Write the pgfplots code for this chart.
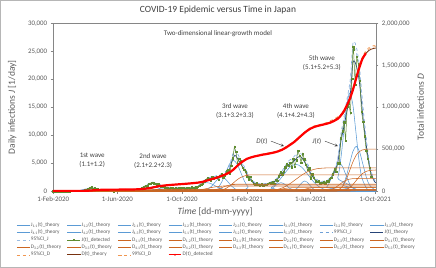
\documentclass[border=0pt]{standalone}
\usepackage{fontspec}
\setmainfont{Carlito}
\usepackage{pgfplots}
\pgfplotsset{compat=1.18}

\definecolor{jblue}{RGB}{91,155,213}
\definecolor{jci}{RGB}{110,160,215}
\definecolor{jnavy}{RGB}{38,68,120}
\definecolor{jgreen}{RGB}{96,140,50}
\definecolor{dorange}{RGB}{204,102,34}
\definecolor{dci}{RGB}{240,150,80}
\definecolor{dbrown}{RGB}{120,50,15}
\definecolor{axgray}{RGB}{134,134,134}
\definecolor{txtgray}{RGB}{89,89,89}

\pgfplotsset{
  jc/.style={jblue, line width=0.55pt, smooth, mark=none},
  dc/.style={dorange, line width=0.55pt, smooth, mark=none},
  jdet/.style={jgreen, line width=0.5pt, mark=square*, mark size=0.7pt, mark options={line width=0.2pt}},
  ddet/.style={red, line width=2.2pt, mark=*, mark size=0.5pt, mark options={line width=0.2pt}},
  base/.style={
    width=323pt, height=168pt, scale only axis,
    xmin=0, xmax=609,
    scaled y ticks=false,
    tick align=outside, major tick length=2.5pt,
    tick style={axgray, line width=0.4pt},
    tick label style={font=\fontsize{6.9}{8}\selectfont, text=txtgray},
    axis line style={axgray, line width=0.5pt},
  },
}

\begin{document}
\begin{tikzpicture}
% ---------- daily infections J (left axis)
\begin{axis}[base,
  ymin=0, ymax=30000,
  ytick={0,5000,10000,15000,20000,25000,30000},
  yticklabels={0,{5,000},{10,000},{15,000},{20,000},{25,000},{30,000}},
  xtick={0,121,243,366,486,608},
  xticklabels={1-Feb-2020,1-Jun-2020,1-Oct-2020,1-Feb-2021,1-Jun-2021,1-Oct-2021},
  xtick pos=left, ytick pos=left,
]
% wave components
\addplot[jc] coordinates {(0,0) (36,4.6) (46,57) (51,137) (56,255) (61,370) (66,420) (71,370) (76,255) (81,137) (86,57) (96,4.6) (609,0)};
\addplot[jc] coordinates {(0,0) (36,2.4) (50,30) (57,72) (64,134) (71,194) (78,220) (85,194) (92,134) (99,72) (106,30) (120,2.4) (609,0)};
\addplot[jc] coordinates {(0,0) (146,7.7) (156,95) (161,228) (166,425) (171,617) (176,700) (181,617) (186,425) (191,228) (196,95) (206,7.7) (609,0)};
\addplot[jc] coordinates {(0,0) (160,8.8) (170,108) (175,260) (180,486) (185,706) (190,800) (195,706) (200,486) (205,260) (210,108) (220,8.8) (609,0)};
\addplot[jc] coordinates {(0,0) (163,4.4) (177,54) (184,130) (191,243) (198,353) (205,400) (212,353) (219,243) (226,130) (233,54) (247,4.4) (609,0)};
\addplot[jc] coordinates {(0,0) (242,16) (258,203) (266,488) (274,911) (282,1323) (290,1500) (298,1323) (306,911) (314,488) (322,203) (338,16) (609,0)};
\addplot[jc] coordinates {(0,0) (279,28) (292,338) (298.5,813) (305,1518) (311.5,2205) (318,2500) (324.5,2205) (331,1518) (337.5,813) (344,338) (357,28) (609,0)};
\addplot[jc] coordinates {(0,0) (298,61) (312,743) (319,1788) (326,3339) (333,4851) (340,5500) (347,4851) (354,3339) (361,1788) (368,743) (382,61) (609,0)};
\addplot[jc] coordinates {(0,0) (397,16) (408,203) (413.5,488) (419,911) (424.5,1323) (430,1500) (435.5,1323) (441,911) (446.5,488) (452,203) (463,16) (609,0)};
\addplot[jc] coordinates {(0,0) (389,53) (412,648) (423.5,1560) (435,2914) (446.5,4234) (458,4800) (469.5,4234) (481,2914) (492.5,1560) (504,648) (527,53) (609,0)};
\addplot[jc] coordinates {(0,0) (448,20) (457,243) (461.5,585) (466,1093) (470.5,1588) (475,1800) (479.5,1588) (484,1093) (488.5,585) (493,243) (502,20) (609,0)};
\addplot[jc] coordinates {(0,0) (504,55) (516,675) (522,1625) (528,3035) (534,4410) (540,5000) (546,4410) (552,3035) (558,1625) (564,675) (576,55) (609,0)};
\addplot[jc] coordinates {(0,0) (525.8,193) (537.2,2363) (542.9,5688) (548.6,10623) (554.3,15435) (560,17500) (565.7,15435) (571.4,10623) (577.1,5688) (582.8,2363) (594.2,193) (609,0)};
\addplot[jc] coordinates {(0,0) (534.5,88) (547,1080) (553.25,2600) (559.5,4856) (565.75,7056) (572,8000) (578.25,7056) (584.5,4856) (590.75,2600) (597,1080) (609,88)};
% 99% CI
\addplot[jci, dashed, line width=0.55pt, smooth] coordinates {(0,0) (20,12) (35,35) (50,58) (58,173) (63,345) (68,575) (73,644) (78,552) (85,380) (92,207) (100,92) (110,40) (120,40) (135,58) (145,104) (152,196) (160,345) (168,644) (175,1035) (182,1438) (188,1610) (193,1438) (200,1208) (207,920) (215,667) (225,598) (240,598) (255,621) (265,667) (272,863) (280,1380) (288,2128) (296,2473) (305,2645) (315,2990) (325,3450) (332,4255) (338,6325) (343,7360) (348,6670) (355,5405) (362,4140) (370,2645) (378,1725) (388,1323) (400,1323) (412,1668) (420,2070) (428,3105) (436,4140) (444,5405) (452,5865) (460,6785) (466,7130) (472,6440) (480,4945) (488,3220) (496,2185) (505,1783) (515,1840) (522,2300) (530,3680) (537,5750) (543,10120) (549,13340) (555,16675) (561,20125) (566,26450) (572,25875) (578,22425) (585,14950) (592,8625) (599,4025) (606,2070) (609,1725)};
% J theory
\addplot[jnavy, line width=0.7pt, smooth] coordinates {(0,0) (20,10) (35,30) (50,50) (58,150) (63,300) (68,500) (73,560) (78,480) (85,330) (92,180) (100,80) (110,35) (120,35) (135,50) (145,90) (152,170) (160,300) (168,560) (175,900) (182,1250) (188,1400) (193,1250) (200,1050) (207,800) (215,580) (225,520) (240,520) (255,540) (265,580) (272,750) (280,1200) (288,1850) (296,2150) (305,2300) (315,2600) (325,3000) (332,3700) (338,5500) (343,6400) (348,5800) (355,4700) (362,3600) (370,2300) (378,1500) (388,1150) (400,1150) (412,1450) (420,1800) (428,2700) (436,3600) (444,4700) (452,5100) (460,5900) (466,6200) (472,5600) (480,4300) (488,2800) (496,1900) (505,1550) (515,1600) (522,2000) (530,3200) (537,5000) (543,8800) (549,11600) (555,14500) (561,17500) (566,23000) (572,22500) (578,19500) (585,13000) (592,7500) (599,3500) (606,1800) (609,1500)};
% 95% CI
\addplot[jci!70, dashed, line width=0.55pt, smooth] coordinates {(0,0) (20,11) (35,33) (50,55) (58,165) (63,330) (68,550) (73,616) (78,528) (85,363) (92,198) (100,88) (110,39) (120,39) (135,55) (145,99) (152,187) (160,330) (168,616) (175,990) (182,1375) (188,1540) (193,1375) (200,1155) (207,880) (215,638) (225,572) (240,572) (255,594) (265,638) (272,825) (280,1320) (288,2035) (296,2365) (305,2530) (315,2860) (325,3300) (332,4070) (338,6050) (343,7040) (348,6380) (355,5170) (362,3960) (370,2530) (378,1650) (388,1265) (400,1265) (412,1595) (420,1980) (428,2970) (436,3960) (444,5170) (452,5610) (460,6490) (466,6820) (472,6160) (480,4730) (488,3080) (496,2090) (505,1705) (515,1760) (522,2200) (530,3520) (537,5500) (543,9680) (549,12760) (555,15950) (561,19250) (566,25300) (572,24750) (578,21450) (585,14300) (592,8250) (599,3850) (606,1980) (609,1650)};
% J detected
\addplot[jdet] coordinates {
(0,2) (3,1) (6,3) (9,5) (12,8) (15,12) (18,10) (21,15) (24,20) (27,12)
(30,15) (33,30) (36,40) (39,55) (42,45) (45,35) (48,40) (51,50) (54,60) (57,110)
(60,225) (63,310) (66,360) (69,640) (72,720) (75,380) (78,570) (81,430) (84,380) (87,280)
(90,240) (93,200) (96,120) (99,80) (102,90) (105,55) (108,30) (111,25) (114,20) (117,30)
(120,40) (123,50) (126,35) (129,40) (132,45) (135,55) (138,70) (141,60) (144,90) (147,110)
(150,130) (153,190) (156,250) (159,280) (162,300) (165,420) (168,600) (171,780) (174,980) (177,900)
(180,1300) (183,1350) (186,1560) (189,1450) (192,1300) (195,1050) (198,1350) (201,1000) (204,900) (207,800)
(210,700) (213,600) (216,550) (219,470) (222,580) (225,520) (228,470) (231,560) (234,380) (237,500)
(240,550) (243,580) (246,620) (249,480) (252,550) (255,610) (258,440) (261,700) (264,620) (267,500)
(270,730) (273,790) (276,1000) (279,1100) (282,1450) (285,1650) (288,2000) (291,2300) (294,2250) (297,1900)
(300,2500) (303,2200) (306,2400) (309,2500) (312,2000) (315,2750) (318,3000) (321,2500) (324,2850) (327,3600)
(330,3800) (333,3100) (336,4500) (339,5900) (342,7900) (345,7000) (348,4900) (351,5800) (354,5400) (357,4200)
(360,3850) (363,3500) (366,2600) (369,2100) (372,2600) (375,1900) (378,1300) (381,1200) (384,1400) (387,1100)
(390,1050) (393,1250) (396,1000) (399,1150) (402,1100) (405,1300) (408,1500) (411,1450) (414,1700) (417,1350)
(420,2000) (423,1900) (426,2700) (429,3400) (432,3000) (435,3450) (438,4300) (441,4800) (444,4500) (447,5100)
(450,4300) (453,5800) (456,4400) (459,5500) (462,7200) (465,6300) (468,5100) (471,6700) (474,5700) (477,4700)
(480,3800) (483,4100) (486,2300) (489,3000) (492,2400) (495,1800) (498,1700) (501,1800) (504,1450) (507,1500)
(510,1600) (513,1400) (516,1800) (519,1750) (522,2200) (525,2400) (528,3000) (531,3900) (534,3500) (537,5000)
(540,5000) (543,9500) (546,10700) (549,12300) (552,9000) (555,15200) (558,15700) (561,14000) (564,20100) (566,25800)
(567,25400) (570,19000) (573,24000) (576,22700) (579,19800) (582,14200) (585,12400) (588,9800) (591,7200) (594,5800)
(597,4200) (600,2600)};
\end{axis}

% ---------- total infections D (right axis)
\begin{axis}[base,
  ymin=0, ymax=2000000,
  axis x line=none, axis y line*=right,
  ytick={0,500000,1000000,1500000,2000000},
  yticklabels={0,{500,000},{1,000,000},{1,500,000},{2,000,000}},
  legend columns=8,
  legend cell align=left,
  legend image code/.code={\draw[mark repeat=2,mark phase=2,#1] plot coordinates {(0pt,0pt) (6.5pt,0pt) (13pt,0pt)};},
  legend style={at={(0.505,-0.18)}, anchor=north, draw=none, fill=none,
    font=\fontsize{5.3}{6}\selectfont, text=txtgray,
    /tikz/every even column/.append style={column sep=5pt},
    row sep=0.5pt, inner sep=0pt, nodes={inner sep=0.8pt}},
]
\addlegendimage{jc}\addlegendentry{J\textsubscript{1.1}(t)\_theory}
\addlegendimage{jc}\addlegendentry{J\textsubscript{1.2}(t)\_theory}
\addlegendimage{jc}\addlegendentry{J\textsubscript{2.1}(t)\_theory}
\addlegendimage{jc}\addlegendentry{J\textsubscript{2.2}(t)\_theory}
\addlegendimage{jc}\addlegendentry{J\textsubscript{2.3}(t)\_theory}
\addlegendimage{jc}\addlegendentry{J\textsubscript{3.1}(t)\_theory}
\addlegendimage{jc}\addlegendentry{J\textsubscript{3.2}(t)\_theory}
\addlegendimage{jc}\addlegendentry{J\textsubscript{3.3}(t)\_theory}
\addlegendimage{jc}\addlegendentry{J\textsubscript{4.1}(t)\_theory}
\addlegendimage{jc}\addlegendentry{J\textsubscript{4.2}(t)\_theory}
\addlegendimage{jc}\addlegendentry{J\textsubscript{4.3}(t)\_theory}
\addlegendimage{jc}\addlegendentry{J\textsubscript{5.1}(t)\_theory}
\addlegendimage{jc}\addlegendentry{J\textsubscript{5.2}(t)\_theory}
\addlegendimage{jc}\addlegendentry{J\textsubscript{5.3}(t)\_theory}
\addlegendimage{jci, dashed, line width=0.55pt}\addlegendentry{99\%CI\_J}
\addlegendimage{jnavy, line width=0.7pt}\addlegendentry{J(t)\_theory}
\addlegendimage{jci!70, dashed, line width=0.55pt}\addlegendentry{95\%CI\_J}
\addlegendimage{jdet}\addlegendentry{J(t)\_detected}
% wave components, cumulative
\addplot[dc] coordinates {(0,0) (36,10) (46,242) (51,704) (56,1670) (61,3245) (66,5250) (71,7256) (76,8831) (81,9797) (86,10259) (96,10490) (609,10500)};
\addlegendentry{D\textsubscript{1.1}(t)\_theory}
\addplot[dc] coordinates {(0,0) (36,8) (50,177) (57,516) (64,1224) (71,2379) (78,3850) (85,5321) (92,6476) (99,7184) (106,7523) (120,7692) (609,7700)};
\addlegendentry{D\textsubscript{1.2}(t)\_theory}
\addplot[dc] coordinates {(0,0) (146,18) (156,403) (161,1173) (166,2783) (171,5408) (176,8750) (181,12093) (186,14718) (191,16328) (196,17098) (206,17483) (609,17500)};
\addlegendentry{D\textsubscript{2.1}(t)\_theory}
\addplot[dc] coordinates {(0,0) (160,20) (170,460) (175,1340) (180,3180) (185,6180) (190,10000) (195,13820) (200,16820) (205,18660) (210,19540) (220,19980) (609,20000)};
\addlegendentry{D\textsubscript{2.2}(t)\_theory}
\addplot[dc] coordinates {(0,0) (163,14) (177,322) (184,938) (191,2226) (198,4326) (205,7000) (212,9674) (219,11774) (226,13062) (233,13678) (247,13986) (609,14000)};
\addlegendentry{D\textsubscript{2.3}(t)\_theory}
\addplot[dc] coordinates {(0,0) (242,60) (258,1380) (266,4020) (274,9540) (282,18540) (290,30000) (298,41460) (306,50460) (314,55980) (322,58620) (338,59940) (609,60000)};
\addlegendentry{D\textsubscript{3.1}(t)\_theory}
\addplot[dc] coordinates {(0,0) (279,81) (292,1863) (298.5,5427) (305,12879) (311.5,25029) (318,40500) (324.5,55971) (331,68121) (337.5,75573) (344,79137) (357,80919) (609,81000)};
\addlegendentry{D\textsubscript{3.2}(t)\_theory}
\addplot[dc] coordinates {(0,0) (298,193) (312,4439) (319,12931) (326,30687) (333,59637) (340,96500) (347,133363) (354,162313) (361,180069) (368,188561) (382,192807) (609,193000)};
\addlegendentry{D\textsubscript{3.3}(t)\_theory}
\addplot[dc] coordinates {(0,0) (397,41) (408,943) (413.5,2747) (419,6519) (424.5,12669) (430,20500) (435.5,28331) (441,34481) (446.5,38253) (452,40057) (463,40959) (609,41000)};
\addlegendentry{D\textsubscript{4.1}(t)\_theory}
\addplot[dc] coordinates {(0,0) (389,277) (412,6371) (423.5,18559) (435,44043) (446.5,85593) (458,138500) (469.5,191407) (481,232957) (492.5,258441) (504,270629) (527,276723) (609,277000)};
\addlegendentry{D\textsubscript{4.2}(t)\_theory}
\addplot[dc] coordinates {(0,0) (448,41) (457,943) (461.5,2747) (466,6519) (470.5,12669) (475,20500) (479.5,28331) (484,34481) (488.5,38253) (493,40057) (502,40959) (609,41000)};
\addlegendentry{D\textsubscript{4.3}(t)\_theory}
\addplot[dc] coordinates {(0,0) (504,150) (516,3450) (522,10050) (528,23850) (534,46350) (540,75000) (546,103650) (552,126150) (558,139950) (564,146550) (576,149850) (609,150000)};
\addlegendentry{D\textsubscript{5.1}(t)\_theory}
\addplot[dc] coordinates {(0,0) (525.8,500) (537.2,11500) (542.9,33500) (548.6,79500) (554.3,154500) (560,250000) (565.7,345500) (571.4,420500) (577.1,466500) (582.8,488500) (594.2,499500) (609,500000)};
\addlegendentry{D\textsubscript{5.2}(t)\_theory}
\addplot[dc] coordinates {(0,0) (534.5,251) (547,5773) (553.25,16817) (559.5,39909) (565.75,77559) (572,125500) (578.25,173441) (584.5,211091) (590.75,234183) (597,245227) (609,250749)};
\addlegendentry{D\textsubscript{5.3}(t)\_theory}
% 95% CI D
\addplot[dci, dashed, line width=0.55pt, smooth] coordinates {(0,0) (60,2424) (90,14645) (121,17170) (151,19089) (182,35350) (213,68680) (243,83830) (274,102010) (304,151500) (335,232300) (350,318150) (366,388850) (394,436320) (425,478740) (455,590850) (486,752450) (516,810020) (547,930210) (565,1201900) (578,1494800) (590,1656400) (600,1706900) (609,1722050)};
\addlegendentry{95\%CI\_D}
% D theory
\addplot[dbrown, line width=0.8pt, smooth] coordinates {(0,0) (60,2400) (90,14500) (121,17000) (151,18900) (182,35000) (213,68000) (243,83000) (274,101000) (304,150000) (335,230000) (350,315000) (366,385000) (394,432000) (425,474000) (455,585000) (486,745000) (516,802000) (547,921000) (565,1190000) (578,1480000) (590,1640000) (600,1690000) (609,1705000)};
\addlegendentry{D(t)\_theory}
% 99% CI D
\addplot[dci, dashed, line width=0.55pt, smooth] coordinates {(0,0) (60,2448) (90,14790) (121,17340) (151,19278) (182,35700) (213,69360) (243,84660) (274,103020) (304,153000) (335,234600) (350,321300) (366,392700) (394,440640) (425,483480) (455,596700) (486,759900) (516,818040) (547,939420) (565,1213800) (578,1509600) (590,1672800) (600,1723800) (609,1739100)};
\addlegendentry{99\%CI\_D}
% D detected
\addplot[ddet, smooth, forget plot] coordinates {
(0,0) (15,20) (30,240) (45,800) (60,2400) (67,4500) (75,8000) (82,11500) (90,14500) (97,15800)
(105,16500) (121,17000) (136,17800) (151,18900) (160,21000) (167,24000) (175,29000) (182,35000) (190,45000) (197,55000)
(205,62000) (213,68000) (228,76000) (243,83000) (259,91000) (274,101000) (282,110000) (289,122000) (297,138000) (304,150000)
(312,166000) (319,183000) (327,203000) (335,230000) (340,255000) (345,285000) (350,315000) (355,340000) (360,362000) (366,385000)
(373,400000) (380,413000) (387,422000) (394,432000) (402,440000) (410,450000) (418,461000) (425,474000) (432,492000) (440,520000)
(447,550000) (455,585000) (462,625000) (470,670000) (478,712000) (486,745000) (493,765000) (500,778000) (508,790000) (516,802000)
(523,815000) (530,835000) (537,860000) (543,900000) (549,955000) (555,1030000) (560,1100000) (565,1190000) (570,1300000) (575,1410000)
(580,1510000) (584,1580000) (590,1640000)};
\addlegendimage{red, line width=0.8pt, mark=*, mark size=0.8pt, mark options={line width=0.2pt}}
\addlegendentry{D(t)\_detected}
\end{axis}

% ---------- frame, titles and notes
\draw[axgray!60, line width=0.6pt] (-53pt,-76pt) rectangle (383pt,191pt);
\node[font=\fontsize{9.5}{11}\selectfont, text=txtgray!70!black] at (165pt,181pt) {COVID-19 Epidemic versus Time in Japan};
\node[rotate=90, font=\fontsize{9.5}{11}\selectfont, text=txtgray] at (-41pt,84pt) {Daily infections \textit{J} [1/day]};
\node[rotate=90, font=\fontsize{9.5}{11}\selectfont, text=txtgray] at (368pt,84pt) {Total infections \textit{D}};
\node[font=\fontsize{9.5}{11}\selectfont, text=txtgray] at (162pt,-21pt) {\textit{Time} [dd-mm-yyyy]};

\begin{scope}[every node/.style={font=\fontsize{7}{9}\selectfont, text=black!75, align=center}]
\node at (165pt,158pt) {Two-dimensional linear-growth model};
\node at (39pt,30.5pt) {1st wave\\(1.1+1.2)};
\node at (100pt,30.5pt) {2nd wave\\(2.1+2.2+2.3)};
\node at (182pt,80pt) {3rd wave\\(3.1+3.2+3.3)};
\node at (243pt,80pt) {4th wave\\(4.1+4.2+4.3)};
\node at (269pt,128.5pt) {5th wave\\(5.1+5.2+5.3)};
\node at (209pt,50pt) {\textit{D}(\textit{t})};
\node at (264pt,50pt) {\textit{J}(\textit{t})};
\end{scope}
\draw[-stealth, black!80, line width=0.4pt] (218pt,50pt) -- (231pt,45pt);
\draw[-stealth, black!80, line width=0.4pt] (272pt,50pt) -- (285pt,45pt);
\end{tikzpicture}
\end{document}
